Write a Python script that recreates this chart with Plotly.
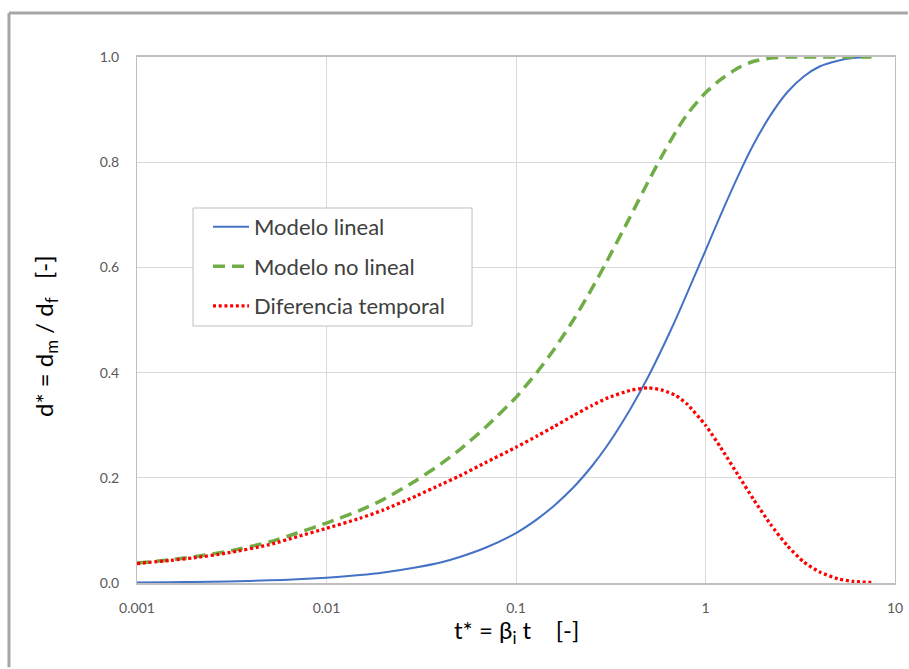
import plotly.graph_objects as go

# Dimensionless time t* = beta_i * t
t_star = [0.001, 0.0015, 0.002, 0.003, 0.005, 0.007, 0.01, 0.015, 0.02, 0.03,
          0.04, 0.05, 0.07, 0.1, 0.13, 0.16, 0.2, 0.25, 0.3, 0.4,
          0.5, 0.6, 0.7, 0.8, 1.0, 1.2, 1.5, 1.8, 2.2, 2.7,
          3.3, 4.0, 5.0, 6.0, 7.5]

# d* for the linear model
d_lineal = [0.001, 0.0015, 0.002, 0.003, 0.005, 0.007, 0.010, 0.015, 0.020, 0.030,
            0.039, 0.049, 0.068, 0.095, 0.122, 0.148, 0.181, 0.221, 0.259, 0.330,
            0.393, 0.451, 0.503, 0.551, 0.632, 0.699, 0.777, 0.835, 0.889, 0.933,
            0.963, 0.982, 0.993, 0.998, 1.000]

# d* for the non-linear model
d_no_lineal = [0.038, 0.044, 0.050, 0.060, 0.078, 0.095, 0.114, 0.138, 0.159, 0.196,
               0.226, 0.252, 0.298, 0.353, 0.402, 0.446, 0.499, 0.558, 0.610, 0.696,
               0.764, 0.817, 0.859, 0.891, 0.932, 0.957, 0.980, 0.992, 0.998, 1.000,
               1.000, 1.000, 1.000, 1.000, 1.000]

# Temporal difference between both models
d_diferencia = [0.037, 0.043, 0.048, 0.057, 0.073, 0.088, 0.104, 0.123, 0.139, 0.166,
                0.187, 0.203, 0.230, 0.258, 0.280, 0.298, 0.318, 0.337, 0.351, 0.366,
                0.371, 0.366, 0.356, 0.340, 0.300, 0.258, 0.203, 0.158, 0.112, 0.071,
                0.040, 0.021, 0.008, 0.003, 0.001]

x_tickvals = [0.001, 0.01, 0.1, 1, 10]
x_ticktext = ["0.001", "0.01", "0.1", "1", "10"]
y_tickvals = [0.0, 0.2, 0.4, 0.6, 0.8, 1.0]

FONT = "Lato, 'Open Sans', sans-serif"
NB = "\u00a0"

fig = go.Figure()
fig.add_trace(go.Scatter(
    x=t_star, y=d_lineal, mode="lines", name="Modelo lineal",
    legendgroup="a",
    line=dict(color="#4472C4", width=2, shape="spline", smoothing=0.6),
))
fig.add_trace(go.Scatter(
    x=t_star, y=d_no_lineal, mode="lines", name="Modelo no lineal",
    legendgroup="b",
    line=dict(color="#70AD47", width=3.5, dash="12px,7px", shape="spline", smoothing=0.6),
))
fig.add_trace(go.Scatter(
    x=t_star, y=d_diferencia, mode="lines", name="Diferencia temporal",
    legendgroup="c",
    line=dict(color="#FF0000", width=3.3, dash="3px,2.7px", shape="spline", smoothing=0.6),
))

fig.update_layout(
    width=909, height=669,
    margin=dict(l=137, r=14, t=57, b=86),
    paper_bgcolor="white", plot_bgcolor="white",
    font=dict(family=FONT, color="#595959"),
    showlegend=True,
    legend=dict(
        x=0.0937, y=0.717, xanchor="left", yanchor="top",
        bgcolor="rgba(0,0,0,0)", borderwidth=0,
        font=dict(family=FONT, size=22, color="#404040"),
        traceorder="grouped", tracegroupgap=8,
        itemwidth=36,
    ),
    xaxis=dict(
        type="log", range=[-3, 1], automargin=False,
        tickvals=x_tickvals, ticktext=x_ticktext,
        showgrid=True, gridcolor="#D9D9D9", gridwidth=1,
        showline=True, linecolor="#BFBFBF", linewidth=1.5, mirror=True,
        ticks="", ticklabelstandoff=11,
        tickfont=dict(family=FONT, size=14, color="#595959"),
        zeroline=False,
    ),
    yaxis=dict(
        range=[0, 1], tickvals=y_tickvals, tickformat=".1f", automargin=False,
        showgrid=True, gridcolor="#D9D9D9", gridwidth=1,
        showline=True, linecolor="#BFBFBF", linewidth=1, mirror=True,
        ticks="", ticklabelstandoff=14,
        tickfont=dict(family=FONT, size=14, color="#595959"),
        zeroline=False,
    ),
    annotations=[
        dict(
            text="t* = β<sub>i</sub> t" + NB * 4 + "[-]",
            xref="paper", yref="paper", x=0.5, y=-0.093,
            xanchor="center", yanchor="middle", showarrow=False,
            font=dict(family=FONT, size=24, color="#000000"),
        ),
        dict(
            text="d* = d<sub>m</sub> / d<sub>f</sub>" + NB * 3 + "[-]",
            xref="paper", yref="paper", x=-0.121, y=0.47,
            xanchor="center", yanchor="middle", textangle=-90, showarrow=False,
            font=dict(family=FONT, size=24, color="#000000"),
        ),
    ],
    shapes=[
        # chart-area frame: left and top edges
        dict(type="line", xref="paper", yref="paper",
             x0=-0.1689, x1=-0.1689, y0=-0.16, y1=1.0837,
             line=dict(color="#A6A6A6", width=3), layer="below"),
        dict(type="line", xref="paper", yref="paper",
             x0=-0.1689, x1=1.017, y0=1.0837, y1=1.0837,
             line=dict(color="#A6A6A6", width=3), layer="below"),
        # legend box
        dict(type="rect", xref="paper", yref="paper",
             x0=0.0739, x1=0.4420, y0=0.4886, y1=0.7129,
             line=dict(color="#BFBFBF", width=1), fillcolor="white",
             layer="above"),
    ],
)

fig.write_html("out.html")
